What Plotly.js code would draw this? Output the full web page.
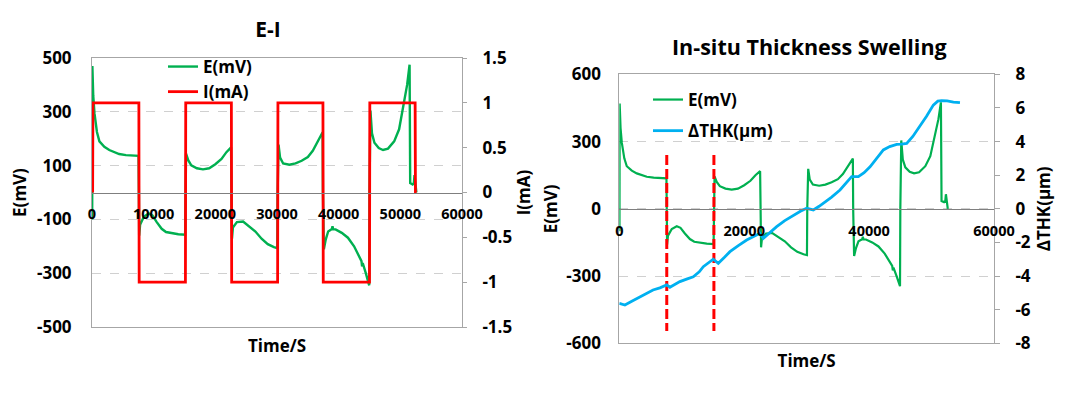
<!DOCTYPE html>
<html>
<head>
<meta charset="utf-8">
<script src="https://cdn.plot.ly/plotly-3.0.1.min.js"></script>
<style>html,body{margin:0;padding:0;background:#fff;}#chart{width:1080px;height:393px;}</style>
</head>
<body>
<div id="chart"></div>
<script>
// ---- Data ----
const eTime = [0, 30, 60, 100, 200, 400, 800, 1200, 2000, 2800, 3600, 4400, 5500, 6500, 7550,
  7600, 7650, 7800, 8400, 9200, 9800, 10500, 11300, 12000, 13000, 14000, 15100,
  15150, 15250, 15600, 16100, 17000, 18000, 19000, 20000, 21000, 21800, 22550,
  22600, 22700, 22850, 23500, 24500, 25500, 26500, 27500, 28500, 29500, 30050,
  30100, 30250, 30500, 31000, 32000, 33000, 34000, 35000, 35800, 36500, 37400,
  37450, 37600, 37900, 38300, 38900, 39000, 39100, 39500, 40500, 41500, 42500, 43300, 43700, 43800, 43900, 44400, 44950,
  45000, 45150, 45400, 45800, 46500, 47200, 48000, 49000, 49800, 50500, 51100, 51500,
  51600, 52000, 52200, 52300, 52400, 52600];
const eValue = [0, -100, 470, 420, 360, 295, 225, 190, 170, 158, 150, 143, 139, 137, 136,
  0, -160, -120, -90, -78, -85, -110, -135, -147, -152, -155, -157,
  0, 145, 120, 101, 90, 86, 90, 105, 125, 150, 168,
  0, -172, -130, -110, -108, -125, -145, -172, -192, -203, -207,
  0, 178, 130, 108, 103, 108, 118, 132, 155, 183, 224,
  0, -211, -175, -145, -136, -125, -136, -137, -150, -168, -200, -240, -255, -275, -262, -300, -345,
  0, 305, 220, 185, 165, 158, 163, 190, 235, 320, 400, 475,
  35, 30, 35, 65, 30, 0];

const iTime = [100, 150, 7600, 7650, 15150, 15200, 22600, 22650, 30100, 30150, 37450, 37500, 45000, 45050, 52400, 52450, 52600];
const iValue = [0, 1, 1, -1, -1, 1, 1, -1, -1, 1, 1, -1, -1, 1, 1, 0, 0];

const thkTime = [0, 900, 2000, 3300, 4500, 5400, 6500, 7600, 8100, 9700, 11000, 11850, 12800, 13450, 15050, 15850, 16800, 17720, 19000, 20400, 21500, 22530, 23060, 24000, 25200, 26500, 27870, 29000, 30000, 31070, 32000, 32670, 34000, 35340, 36300, 37210, 38280, 39200, 40150, 41200, 42280, 43300, 44420, 45200, 46020, 47000, 48150, 49200, 50280, 51000, 51620, 52500, 53500, 54550];
const thkValue = [-5.62, -5.72, -5.5, -5.23, -5.0, -4.83, -4.7, -4.53, -4.67, -4.33, -4.15, -4.04, -3.75, -3.44, -3.0, -3.24, -2.9, -2.55, -2.2, -1.86, -1.65, -1.46, -1.76, -1.45, -1.06, -0.7, -0.37, -0.15, 0.03, -0.07, 0.15, 0.33, 0.7, 1.12, 1.5, 1.91, 1.91, 2.15, 2.5, 3.0, 3.5, 3.7, 3.83, 3.85, 3.89, 4.3, 4.89, 5.5, 6.17, 6.4, 6.43, 6.42, 6.35, 6.31];

const markerTimes = [7600, 15150];
const markerSpan = [240, -545];

// ---- Tick labels ----
const leftXTicks = [0, 10000, 20000, 30000, 40000, 50000, 60000];
const leftXText = ['0', '10000', '20000', '30000', '40000', '50000', '60000'];
const leftETicks = [-500, -300, -100, 100, 300, 500];
const leftEText = ['-500', '-300', '-100', '100', '300', '500'];
const iTicks = [-1.5, -1, -0.5, 0, 0.5, 1, 1.5];
const iText = ['-1.5', '-1', '-0.5', '0', '0.5', '1', '1.5'];
const rightXTicks = [0, 20000, 40000, 60000];
const rightXText = ['0', '20000', '40000', '60000'];
const rightETicks = [-600, -300, 0, 300, 600];
const rightEText = ['-600', '-300', '0', '300', '600'];
const thkTicks = [-8, -6, -4, -2, 0, 2, 4, 6, 8];
const thkText = ['-8', '-6', '-4', '-2', '0', '2', '4', '6', '8'];

const GREEN = '#00b050', RED = '#ff0000', BLUE = '#00b0f0';
const FAM = 'Open Sans, sans-serif';
const W = 1080, H = 393;
const px = v => v / W, py = v => 1 - v / H;

const traces = [
  {x: eTime, y: eValue, xaxis: 'x', yaxis: 'y', type: 'scatter', mode: 'lines', name: 'E(mV)',
   line: {color: GREEN, width: 2.4}, legend: 'legend'},
  {x: iTime, y: iValue, xaxis: 'x', yaxis: 'y2', type: 'scatter', mode: 'lines', name: 'I(mA)',
   line: {color: RED, width: 2.8}, legend: 'legend'},
  {x: eTime, y: eValue, xaxis: 'x2', yaxis: 'y3', type: 'scatter', mode: 'lines', name: 'E(mV)',
   line: {color: GREEN, width: 2.2}, legend: 'legend2', legendgroup: 'g1'},
  {x: thkTime, y: thkValue, xaxis: 'x2', yaxis: 'y4', type: 'scatter', mode: 'lines', name: 'ΔTHK(µm)',
   line: {color: BLUE, width: 2.8}, legend: 'legend2', legendgroup: 'g2'},
  {x: [markerTimes[0], markerTimes[0]], y: markerSpan, xaxis: 'x2', yaxis: 'y3', type: 'scatter', mode: 'lines',
   line: {color: RED, width: 3, dash: '10px,4px'}, showlegend: false, hoverinfo: 'skip'},
  {x: [markerTimes[1], markerTimes[1]], y: markerSpan, xaxis: 'x2', yaxis: 'y3', type: 'scatter', mode: 'lines',
   line: {color: RED, width: 3, dash: '10px,4px'}, showlegend: false, hoverinfo: 'skip'},
  // empty traces that only register the zero-crossing label axes
  {x: [null], y: [null], xaxis: 'x3', yaxis: 'y', type: 'scatter', mode: 'lines', showlegend: false, hoverinfo: 'skip'},
  {x: [null], y: [null], xaxis: 'x4', yaxis: 'y3', type: 'scatter', mode: 'lines', showlegend: false, hoverinfo: 'skip'}
];

const tf = (s) => ({family: FAM, size: s, color: '#000', weight: 700});
const BOX = '#a6a6a6', ZERO = '#7f7f7f', GRID = '#d0d0d0';

const layout = {
  width: W, height: H,
  margin: {l: 0, r: 0, t: 0, b: 0},
  paper_bgcolor: '#fff', plot_bgcolor: '#fff',
  font: tf(17),
  showlegend: true,
  title: {text: 'E-I', x: px(268), xanchor: 'center', y: py(30), yanchor: 'middle', font: tf(21)},
  annotations: [
    {text: 'In-situ Thickness Swelling', x: px(809), y: py(46), xref: 'paper', yref: 'paper',
     xanchor: 'center', yanchor: 'middle', showarrow: false, font: tf(21.5)}
  ],
  legend: {x: px(163), y: py(49), xanchor: 'left', yanchor: 'top', bgcolor: 'rgba(0,0,0,0)',
    font: tf(17), tracegroupgap: 0},
  legend2: {x: px(648), y: py(82), xanchor: 'left', yanchor: 'top', bgcolor: 'rgba(0,0,0,0)',
    font: tf(17), tracegroupgap: 6},
  // Left chart
  xaxis: {domain: [px(92), px(462)], anchor: 'y', range: [0, 60000], showticklabels: false,
    showgrid: false, zeroline: false, showline: true, mirror: true, linecolor: BOX, linewidth: 1,
    ticks: '', title: {text: 'Time/S', font: tf(17), standoff: 13}},
  xaxis3: {overlaying: 'x', anchor: 'free', position: py(192.5), range: [0, 60000],
    tickmode: 'array', tickvals: leftXTicks, ticktext: leftXText, showgrid: false, zeroline: false,
    showline: true, linecolor: ZERO, linewidth: 1, ticks: '', ticklabelstandoff: 8, tickfont: tf(14.5)},
  yaxis: {domain: [py(327), py(58)], anchor: 'x', range: [-500, 500], tickmode: 'array',
    tickvals: leftETicks, ticktext: leftEText, showgrid: true, gridcolor: GRID, griddash: 'dash',
    zeroline: false, showline: true, mirror: true, linecolor: BOX, ticks: '', ticklabelstandoff: 16,
    tickfont: tf(17), title: {text: 'E(mV)', font: tf(17), standoff: 6}},
  yaxis2: {overlaying: 'y', side: 'right', anchor: 'x', range: [-1.5, 1.5], tickmode: 'array',
    tickvals: iTicks, ticktext: iText, showgrid: false, zeroline: false, showline: false,
    ticks: 'outside', ticklen: 4, tickcolor: BOX, ticklabelstandoff: 12, tickfont: tf(17),
    title: {text: 'I(mA)', font: tf(17), standoff: 6}},
  // Right chart
  xaxis2: {domain: [px(619.3), px(994)], anchor: 'y3', range: [0, 60000], showticklabels: false,
    showgrid: false, zeroline: false, showline: true, mirror: true, linecolor: BOX, linewidth: 1,
    ticks: '', title: {text: 'Time/S', font: tf(17), standoff: 11}},
  xaxis4: {overlaying: 'x2', anchor: 'free', position: py(209.3), range: [0, 60000],
    tickmode: 'array', tickvals: rightXTicks, ticktext: rightXText, showgrid: false, zeroline: false,
    showline: true, linecolor: ZERO, linewidth: 1, ticks: '', ticklabelstandoff: 8, tickfont: tf(14.5)},
  yaxis3: {domain: [py(343.3), py(74.3)], anchor: 'x2', range: [-600, 600], tickmode: 'array',
    tickvals: rightETicks, ticktext: rightEText, showgrid: true, gridcolor: GRID, griddash: 'dash',
    zeroline: false, showline: true, mirror: true, linecolor: BOX, ticks: '', ticklabelstandoff: 14,
    tickfont: tf(17), title: {text: 'E(mV)', font: tf(17), standoff: 4}},
  yaxis4: {overlaying: 'y3', side: 'right', anchor: 'x2', range: [-8, 8], tickmode: 'array',
    tickvals: thkTicks, ticktext: thkText, showgrid: false, zeroline: false, showline: false,
    ticks: 'outside', ticklen: 5, tickcolor: BOX, ticklabelstandoff: 12, tickfont: tf(17),
    title: {text: 'ΔTHK(µm)', font: tf(17), standoff: 8}}
};

Plotly.newPlot('chart', traces, layout, {displayModeBar: false, staticPlot: true});
</script>
</body>
</html>
